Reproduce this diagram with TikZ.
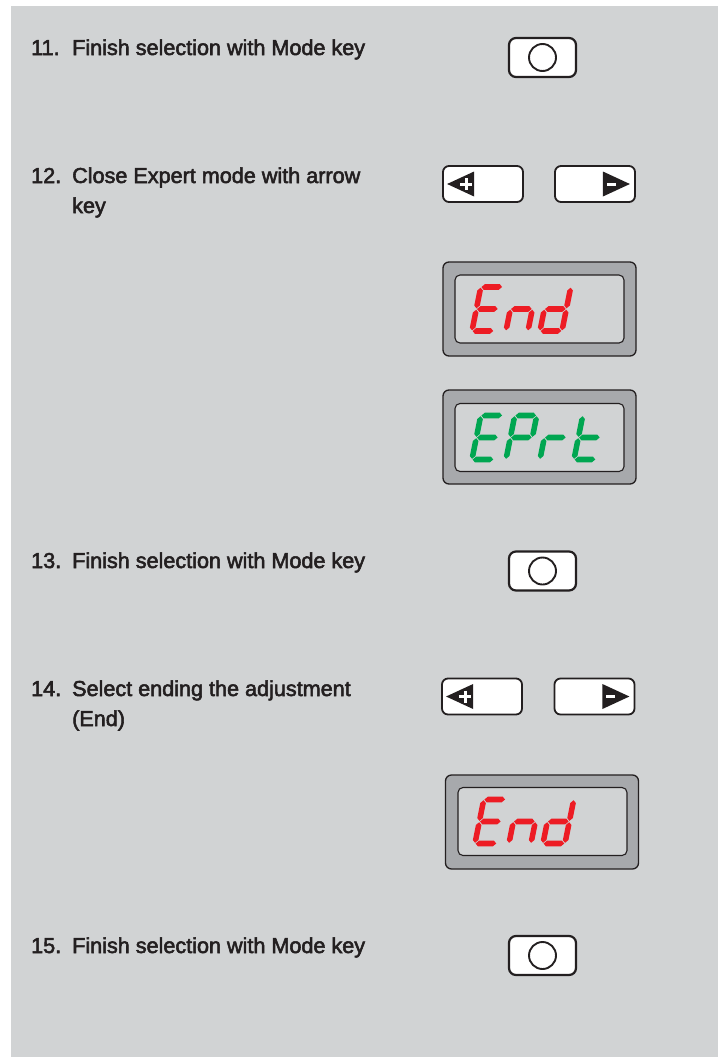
\documentclass[tikz,border=0pt]{standalone}
\usepackage{fontspec}
\setmainfont{Liberation Sans}[FakeBold=2.5]
\usetikzlibrary{calc}
\definecolor{bggray}{HTML}{D1D3D4}
\definecolor{dispgray}{HTML}{A7A9AC}
\definecolor{ink}{HTML}{231F20}
\definecolor{segred}{HTML}{ED1C24}
\definecolor{seggreen}{HTML}{00A651}
\def\sgT{2.8}
\def\sgG{0.7}
\newcommand\hsg[3]{\fill ({#1+\sgG},#3) -- ({#1+\sgG+\sgT},{#3+\sgT}) -- ({#2-\sgG-\sgT},{#3+\sgT}) -- ({#2-\sgG},#3) -- ({#2-\sgG-\sgT},{#3-\sgT}) -- ({#1+\sgG+\sgT},{#3-\sgT}) -- cycle;}
\newcommand\vsg[3]{\fill (#1,{#2+\sgG}) -- ({#1+\sgT},{#2+\sgG+\sgT}) -- ({#1+\sgT},{#3-\sgG-\sgT}) -- (#1,{#3-\sgG}) -- ({#1-\sgT},{#3-\sgG-\sgT}) -- ({#1-\sgT},{#2+\sgG+\sgT}) -- cycle;}
\newcommand\SegA{\hsg{0}{22}{44}}
\newcommand\SegB{\vsg{22}{22}{44}}
\newcommand\SegC{\vsg{22}{0}{22}}
\newcommand\SegD{\hsg{0}{22}{0}}
\newcommand\SegE{\vsg{0}{0}{22}}
\newcommand\SegF{\vsg{0}{22}{44}}
\newcommand\SegG{\hsg{0}{22}{22}}
\newcommand\sevdig[4]{%
  \begin{scope}[shift={#1}, xshift={#2*34bp}, x=1bp, y=1bp, xslant=0.2, fill=#3]
    \foreach \s in {#4}{\csname Seg\s\endcsname}
  \end{scope}}
\begin{document}
\begin{tikzpicture}[x=1bp,y=-1bp,
  txt/.style={inner sep=0pt, anchor=base west, text=ink, align=left,
    font=\fontsize{21.6bp}{30bp}\selectfont},
  modekey/.style={draw=ink, fill=white, line width=2.2bp, rounded corners=7bp,
    minimum width=67bp, minimum height=39bp, inner sep=0pt},
  modering/.style={circle, draw=ink, line width=1.9bp, minimum size=27bp, inner sep=0pt},
  arrowkey/.style={draw=ink, fill=white, line width=1.8bp, rounded corners=6bp,
    minimum width=80bp, minimum height=36bp, inner sep=0pt},
  dispout/.style={draw=ink, fill=dispgray, line width=1.3bp, rounded corners=6bp,
    minimum width=193bp, minimum height=94bp, inner sep=0pt},
  dispin/.style={draw=ink, fill=bggray, line width=1.1bp, rounded corners=5bp,
    minimum width=169bp, minimum height=68bp, inner sep=0pt},
  signline/.style={white, line width=3bp}
]
\useasboundingbox (0,0) rectangle (718,1057);
\fill[white] (0,0) rectangle (718,1057);
\fill[bggray] (11,6) rectangle (718,1057);

% step 11
\node[txt] (n11) at (31,55) {11.};
\node[txt] (t11) at (72,55) {Finish selection with Mode key};
\node[modekey] (k11) at (542.5,57.5) {};
\node[modering] (r11) at (k11) {};

% step 12
\node[txt] (n12) at (31,183) {12.};
\node[txt] (t12) at (72,213) {Close Expert mode with arrow\\key};
\node[arrowkey] (kl12) at (483,184) {};
\node[arrowkey] (kr12) at (595,184) {};
\fill[ink] ($(kl12.west)+(5,0)$) -- ++(27,-12.5) -- ++(0,25) -- cycle;
\draw[signline] ($(kl12.west)+(18,0)$) -- ++(12,0);
\draw[signline] ($(kl12.west)+(24,-6)$) -- ++(0,12);
\fill[ink] ($(kr12.east)+(-6,0)$) -- ++(-27,-12.5) -- ++(0,25) -- cycle;
\draw[signline] ($(kr12.east)+(-29,0)$) -- ++(9,0);

% display End
\node[dispout] (d1out) at (539.5,309) {};
\node[dispin] (d1in) at (539.5,309) {};
\sevdig{($(d1in.west)+(17.5,22)$)}{0}{segred}{A,D,E,F,G}
\sevdig{($(d1in.west)+(17.5,22)$)}{1}{segred}{C,E,G}
\sevdig{($(d1in.west)+(17.5,22)$)}{2}{segred}{B,C,D,E,G}

% display EPrt
\node[dispout] (d2out) at (539.5,437) {};
\node[dispin] (d2in) at (539.5,437.5) {};
\sevdig{($(d2in.west)+(17.5,22)$)}{0}{seggreen}{A,D,E,F,G}
\sevdig{($(d2in.west)+(17.5,22)$)}{1}{seggreen}{A,B,E,F,G}
\sevdig{($(d2in.west)+(17.5,22)$)}{2}{seggreen}{E,G}
\sevdig{($(d2in.west)+(17.5,22)$)}{3}{seggreen}{D,E,F,G}

% step 13
\node[txt] (n13) at (31,568) {13.};
\node[txt] (t13) at (72,568) {Finish selection with Mode key};
\node[modekey] (k13) at (542.5,571) {};
\node[modering] (r13) at (k13) {};

% step 14
\node[txt] (n14) at (31,696) {14.};
\node[txt] (t14) at (72,726) {Select ending the adjustment\\(End)};
\node[arrowkey] (kl14) at (482,696.5) {};
\node[arrowkey] (kr14) at (594.5,696.5) {};
\fill[ink] ($(kl14.west)+(5,0)$) -- ++(27,-12.5) -- ++(0,25) -- cycle;
\draw[signline] ($(kl14.west)+(18,0)$) -- ++(12,0);
\draw[signline] ($(kl14.west)+(24,-6)$) -- ++(0,12);
\fill[ink] ($(kr14.east)+(-6,0)$) -- ++(-27,-12.5) -- ++(0,25) -- cycle;
\draw[signline] ($(kr14.east)+(-29,0)$) -- ++(9,0);

% display End (2)
\node[dispout] (d3out) at (542,822) {};
\node[dispin] (d3in) at (542.5,821.5) {};
\sevdig{($(d3in.west)+(17.5,22)$)}{0}{segred}{A,D,E,F,G}
\sevdig{($(d3in.west)+(17.5,22)$)}{1}{segred}{C,E,G}
\sevdig{($(d3in.west)+(17.5,22)$)}{2}{segred}{B,C,D,E,G}

% step 15
\node[txt] (n15) at (31,953) {15.};
\node[txt] (t15) at (72,953) {Finish selection with Mode key};
\node[modekey] (k15) at (542.5,955.5) {};
\node[modering] (r15) at (k15) {};
\end{tikzpicture}
\end{document}
